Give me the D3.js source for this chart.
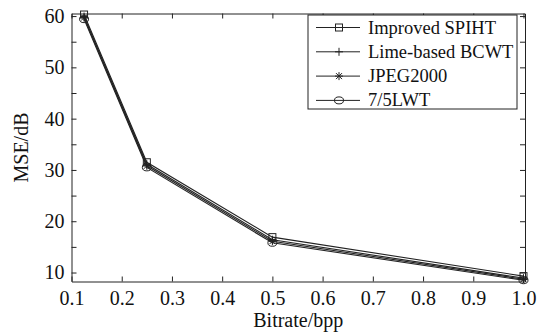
<!DOCTYPE html>
<html>
<head>
<meta charset="utf-8">
<script src="https://cdn.jsdelivr.net/npm/d3@7"></script>
<style>
  body { margin: 0; background: #fff; }
  svg text { font-family: "Liberation Serif", "Times New Roman", "DejaVu Serif", serif !important; fill: #111; }
</style>
</head>
<body>
<div id="chart"></div>
<script>
// valeurs
const bitrates = [0.125, 0.25, 0.5, 1.0];
const seriesNames = ["Improved SPIHT", "Lime-based BCWT", "JPEG2000", "7/5LWT"];
const spiht = [60.3, 31.5, 16.9, 9.3];
const bcwt = [59.9, 31.1, 16.4, 8.9];
const jpeg2000 = [59.7, 30.8, 16.1, 8.7];
const lwt = [59.4, 30.5, 15.8, 8.5];
const xTicks = [0.1, 0.2, 0.3, 0.4, 0.5, 0.6, 0.7, 0.8, 0.9, 1.0];
const yTicks = [10, 20, 30, 40, 50, 60];
const yMinorTicks = [10, 15, 20, 25, 30, 35, 40, 45, 50, 55, 60];
const markers = ["square", "plus", "star", "circle"];

const width = 543, height = 333;
const margin = { top: 13.5, right: 18, bottom: 51.5, left: 71.5 };

const svg = d3.select("#chart").append("svg")
  .attr("width", width).attr("height", height);

const x = d3.scaleLinear().domain([0.1, 1.003]).range([margin.left, width - margin.right]);
const y = d3.scaleLinear().domain([8.25, 60.5]).range([height - margin.bottom, margin.top]);

// axes avec ticks vers l'intérieur
svg.append("g")
  .attr("transform", `translate(0,${height - margin.bottom})`)
  .call(d3.axisBottom(x).tickValues(xTicks).tickSizeInner(-5).tickSizeOuter(0).tickPadding(9)
    .tickFormat(d3.format(".1f")))
  .call(g => g.selectAll("text").attr("font-size", 20));
svg.append("g")
  .attr("transform", `translate(0,${margin.top})`)
  .call(d3.axisTop(x).tickValues(xTicks).tickSizeInner(-5).tickSizeOuter(0).tickFormat(""));
svg.append("g")
  .attr("transform", `translate(${margin.left},0)`)
  .call(d3.axisLeft(y).tickValues(yMinorTicks).tickSizeInner(-5).tickSizeOuter(0).tickPadding(7)
    .tickFormat(d => yTicks.includes(d) ? d : ""))
  .call(g => g.selectAll("text").attr("font-size", 20));
svg.append("g")
  .attr("transform", `translate(${width - margin.right},0)`)
  .call(d3.axisRight(y).tickValues(yMinorTicks).tickSizeInner(-5).tickSizeOuter(0).tickFormat(""));
svg.selectAll("g").attr("font-family", null);
svg.selectAll(".domain").attr("stroke", "#222");
svg.selectAll(".tick line").attr("stroke", "#222");

// titres des axes
svg.append("text")
  .attr("x", (margin.left + width - margin.right) / 2)
  .attr("y", 327)
  .attr("text-anchor", "middle")
  .attr("font-size", 20)
  .text("Bitrate/bpp");
svg.append("text")
  .attr("transform", `translate(28,${(margin.top + height - margin.bottom) / 2}) rotate(-90)`)
  .attr("text-anchor", "middle")
  .attr("font-size", 20)
  .text("MSE/dB");

function drawMarker(g, type) {
  if (type == "square") {
    g.append("rect").attr("x", -3.5).attr("y", -3.5).attr("width", 7).attr("height", 7)
      .attr("fill", "none").attr("stroke", "#222");
  } else if (type == "plus") {
    g.append("path").attr("d", "M-4,0H4M0,-4V4").attr("stroke", "#222");
  } else if (type == "star") {
    g.append("path").attr("d", "M-4,0H4M0,-4V4M-3,-3L3,3M-3,3L3,-3").attr("stroke", "#222");
  } else {
    g.append("ellipse").attr("rx", 4.5).attr("ry", 3.5)
      .attr("fill", "none").attr("stroke", "#222");
  }
}

const allSeries = [spiht, bcwt, jpeg2000, lwt];
const line = d3.line().x((d, i) => x(bitrates[i])).y(d => y(d));

allSeries.forEach((vals, s) => {
  svg.append("path")
    .datum(vals)
    .attr("fill", "none")
    .attr("stroke", "#222")
    .attr("stroke-width", 1.1)
    .attr("d", line);
  vals.forEach((v, i) => {
    const g = svg.append("g").attr("transform", `translate(${x(bitrates[i])},${y(v)})`);
    drawMarker(g, markers[s]);
  });
});

// légende
const legend = svg.append("g").attr("transform", "translate(308,15)");
legend.append("rect")
  .attr("width", 209).attr("height", 94)
  .attr("fill", "#fff").attr("stroke", "#222");
seriesNames.forEach((name, i) => {
  const cy = 12.5 + i * 24.3;
  legend.append("line").attr("x1", 8).attr("x2", 52).attr("y1", cy).attr("y2", cy).attr("stroke", "#222");
  const g = legend.append("g").attr("transform", `translate(31,${cy})`);
  drawMarker(g, markers[i]);
  legend.append("text").attr("x", 60).attr("y", cy + 6).attr("font-size", 18.5).text(name);
});
</script>
</body>
</html>
